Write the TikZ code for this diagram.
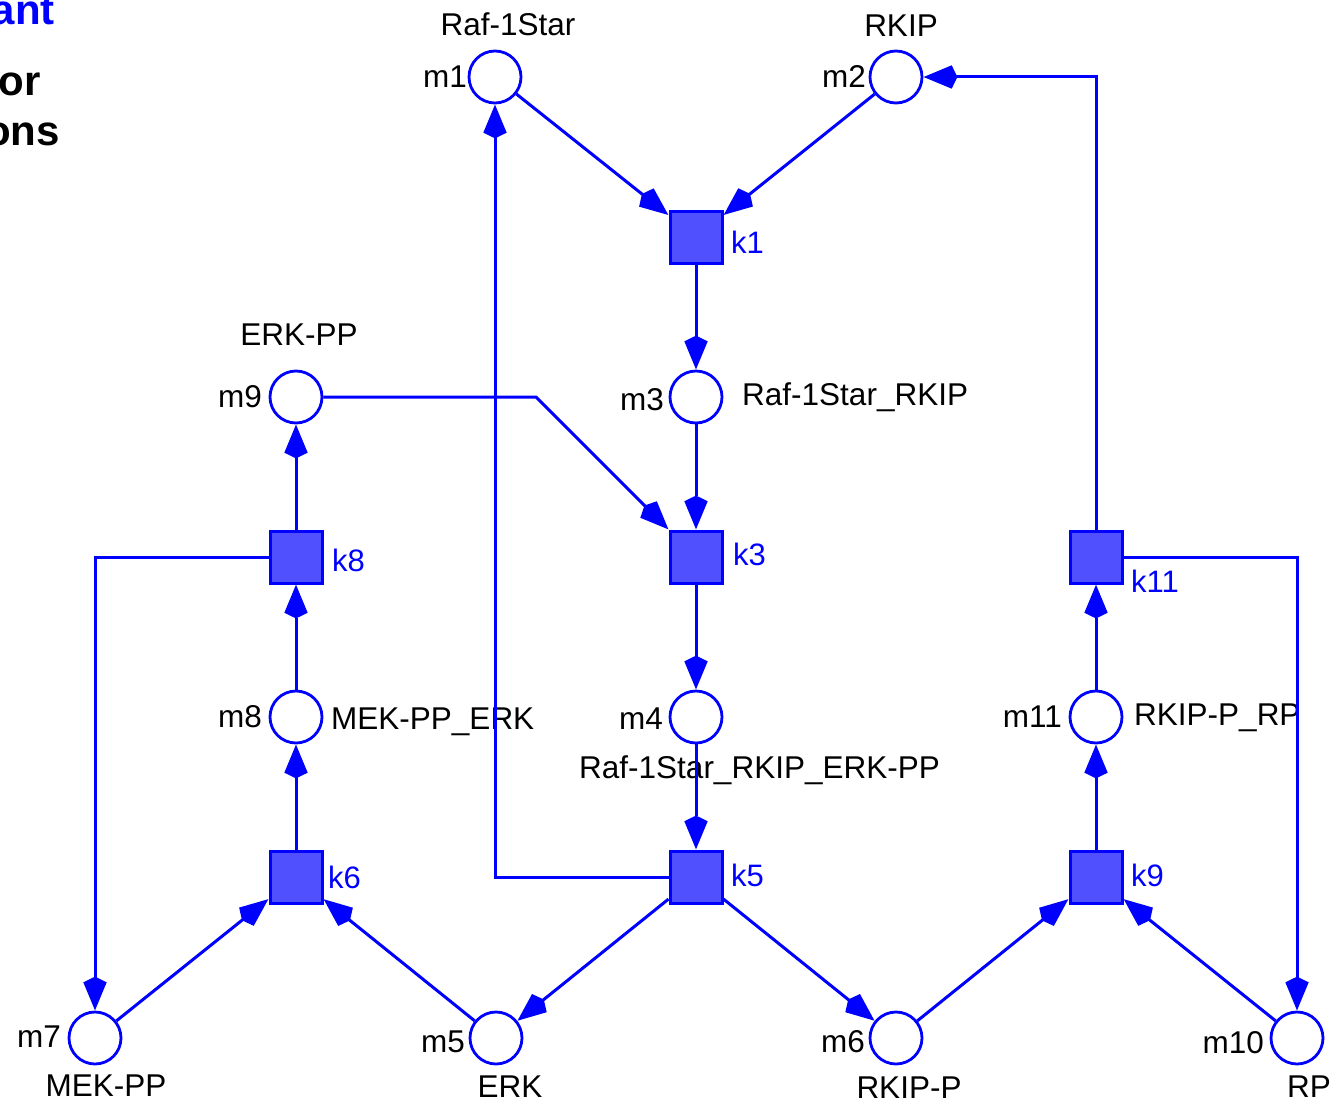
\documentclass[tikz,border=0pt]{standalone}
\usepackage{fontspec}
\setmainfont{Liberation Sans}
\usetikzlibrary{arrows.meta}
\definecolor{pblue}{RGB}{0,0,255}
\definecolor{tfill}{RGB}{80,80,255}
\tikzset{
  place/.style={circle,draw=pblue,fill=white,line width=2.8pt,minimum size=52pt,inner sep=0pt},
  trans/.style={rectangle,draw=pblue,fill=tfill,line width=3pt,minimum size=52pt,inner sep=0pt},
  lbl/.style={inner sep=0pt,font=\fontsize{31.5}{36}\selectfont,text=black},
  klbl/.style={inner sep=0pt,anchor=west,font=\fontsize{31}{36}\selectfont,text=pblue},
  arc/.style={draw=pblue,line width=3pt,-{Stealth[length=28pt,width=22pt,inset=-6pt]}},
  ttl/.style={inner sep=0pt,anchor=base east,font=\fontsize{42}{50}\selectfont\bfseries}
}
\begin{document}
\begin{tikzpicture}[x=1pt,y=-1pt]
\useasboundingbox (0,0) rectangle (1340,1105);
% places
\node[place] (m1) at (495,77) {};
\node[place] (m2) at (896,77) {};
\node[place] (m3) at (696,397) {};
\node[place] (m4) at (696,717) {};
\node[place] (m5) at (496,1038) {};
\node[place] (m6) at (896,1038) {};
\node[place] (m7) at (95,1038) {};
\node[place] (m8) at (296,717) {};
\node[place] (m9) at (296,397) {};
\node[place] (m10) at (1297,1038) {};
\node[place] (m11) at (1096,717) {};
% transitions
\node[trans] (k1) at (696,237) {};
\node[trans] (k3) at (696,557) {};
\node[trans] (k5) at (696,877) {};
\node[trans] (k6) at (296,877) {};
\node[trans] (k8) at (296,557) {};
\node[trans] (k9) at (1096,877) {};
\node[trans] (k11) at (1096,557) {};
% place labels
\node[lbl,anchor=east] (m1l) at (467,77) {m1};
\node[lbl] (n1) at (508,24) {Raf-1Star};
\node[lbl,anchor=east] (m2l) at (866,77) {m2};
\node[lbl] (n2) at (901,26) {RKIP};
\node[lbl,anchor=east] (m3l) at (664,400) {m3};
\node[lbl,anchor=west] (n3) at (742,397) {Raf-1Star\_RKIP};
\node[lbl,anchor=east] (m4l) at (663,719) {m4};
\node[lbl,anchor=west] (n4) at (579,770) {Raf-1Star\_RKIP\_ERK-PP};
\node[lbl,anchor=east] (m9l) at (262,397) {m9};
\node[lbl] (n9) at (299,335) {ERK-PP};
\node[lbl,anchor=east] (m8l) at (262,717) {m8};
\node[lbl,anchor=west] (n8) at (331,722) {MEK-PP\_ERK};
\node[lbl,anchor=east] (m11l) at (1062,717) {m11};
\node[lbl,anchor=west] (n11) at (1134,718) {RKIP-P\_RP};
\node[lbl,anchor=east] (m7l) at (61,1037) {m7};
\node[lbl] (n7) at (106,1086) {MEK-PP};
\node[lbl,anchor=east] (m5l) at (465,1042) {m5};
\node[lbl] (n5) at (510,1087) {ERK};
\node[lbl,anchor=east] (m6l) at (865,1042) {m6};
\node[lbl] (n6) at (909,1088) {RKIP-P};
\node[lbl,anchor=east] (m10l) at (1264,1043) {m10};
\node[lbl] (n10) at (1309,1087) {RP};
% transition labels
\node[klbl] (k1l) at (731,242) {k1};
\node[klbl] (k3l) at (733,554) {k3};
\node[klbl] (k5l) at (731,875) {k5};
\node[klbl] (k6l) at (328,877) {k6};
\node[klbl] (k8l) at (332,560) {k8};
\node[klbl] (k9l) at (1131,875) {k9};
\node[klbl] (k11l) at (1131,581) {k11};
% cropped title text
\node[ttl,text=pblue] (t1) at (55,25) {ant};
\node[ttl] (t2) at (41,96) {or};
\node[ttl] (t3) at (60,146) {ons};
% arcs
\coordinate (c93) at (536,397);
\draw[arc] (m1) -- (k1);
\draw[arc] (m2) -- (k1);
\draw[arc] (k1) -- (m3);
\draw[arc] (m3) -- (k3);
\draw[arc] (m9) -- (c93) -- (k3);
\draw[arc] (k3) -- (m4);
\draw[arc] (m4) -- (k5);
\draw[arc] (k5) -| (m1);
\draw[arc] (k5) -- (m5);
\draw[arc] (k5) -- (m6);
\draw[arc] (m7) -- (k6);
\draw[arc] (m5) -- (k6);
\draw[arc] (k6) -- (m8);
\draw[arc] (m8) -- (k8);
\draw[arc] (k8) -- (m9);
\draw[arc] (k8) -| (m7);
\draw[arc] (m6) -- (k9);
\draw[arc] (m10) -- (k9);
\draw[arc] (k9) -- (m11);
\draw[arc] (m11) -- (k11);
\draw[arc] (k11) |- (m2);
\draw[arc] (k11) -| (m10);
\end{tikzpicture}
\end{document}
